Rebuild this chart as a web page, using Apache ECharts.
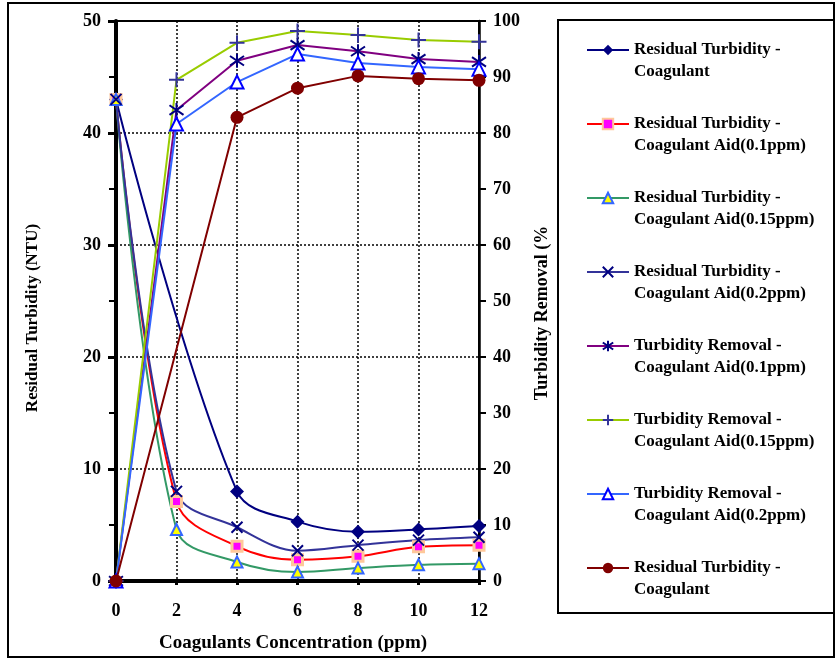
<!DOCTYPE html>
<html>
<head>
<meta charset="utf-8">
<script src="https://cdn.jsdelivr.net/npm/echarts@6/dist/echarts.min.js"></script>
<style>
html,body{margin:0;padding:0;background:#fff;}
#chart{width:836px;height:660px;}
</style>
</head>
<body>
<div id="chart"></div>
<script>
// ---- data ----
const xCoag = [0, 4, 6, 8, 10, 12];
const xAid = [0, 2, 4, 6, 8, 10, 12];
const resCoag = [43, 8.0, 5.3, 4.4, 4.6, 4.9];
const resAid01 = [43, 7.1, 3.1, 1.9, 2.2, 3.05, 3.2];
const resAid015 = [43, 4.6, 1.7, 0.8, 1.15, 1.45, 1.55];
const resAid02 = [43, 8.0, 4.8, 2.7, 3.2, 3.65, 3.9];
const remAid01 = [0, 84.1, 92.9, 95.7, 94.6, 93.2, 92.7];
const remAid015 = [0, 89.5, 96.1, 98.2, 97.5, 96.6, 96.3];
const remAid02 = [0, 81.6, 89.1, 94.1, 92.5, 91.8, 91.4];
const remCoag = [0, 82.8, 88.0, 90.2, 89.7, 89.4];

const seriesNames = [
  'Residual Turbidity -\nCoagulant',
  'Residual Turbidity -\nCoagulant Aid(0.1ppm)',
  'Residual Turbidity -\nCoagulant Aid(0.15ppm)',
  'Residual Turbidity -\nCoagulant Aid(0.2ppm)',
  'Turbidity Removal -\nCoagulant Aid(0.1ppm)',
  'Turbidity Removal -\nCoagulant Aid(0.15ppm)',
  'Turbidity Removal -\nCoagulant Aid(0.2ppm)',
  'Residual Turbidity -\nCoagulant ' // trailing space keeps the legend entry distinct
];
const xTicks = {min: 0, max: 12, interval: 2};
const yLeftTicks = {min: 0, max: 50, interval: 10};
const yRightTicks = {min: 0, max: 100, interval: 10};
const xTitle = 'Coagulants Concentration (ppm)';
const yLeftTitle = 'Residual Turbidity (NTU)';
const yRightTitle = 'Turbidity Removal (%';

// ---- build ----
const pair = (xs, ys) => xs.map((x, i) => [x, ys[i]]);
const FONT = 'Liberation Serif';
const SYM_X = 'path://M0,0L10,10M10,0L0,10';
const SYM_AST = 'path://M5,0L5,10M0.6,1.6L9.4,8.4M9.4,1.6L0.6,8.4';
const SYM_PLUS = 'path://M5,0L5,10M0,5L10,5';

function mk(name, xs, ys, axis, smooth, lineColor, symbol, size, itemStyle) {
  return {
    name: name, type: 'line', yAxisIndex: axis,
    data: pair(xs, ys), smooth: smooth,
    symbol: symbol, symbolSize: size, showAllSymbol: true,
    lineStyle: {color: lineColor, width: 2},
    itemStyle: itemStyle,
    emphasis: {disabled: true}
  };
}

const series = [
  mk(seriesNames[0], xCoag, resCoag, 0, 0.35, '#000080', 'diamond', 14, {color: '#000080'}),
  mk(seriesNames[1], xAid, resAid01, 0, 0.35, '#ff0000', 'rect', 10, {color: '#ff00ff', borderColor: '#ffc89a', borderWidth: 3}),
  mk(seriesNames[2], xAid, resAid015, 0, 0.35, '#339966', 'triangle', 11, {color: '#ffff00', borderColor: '#3366ff', borderWidth: 2}),
  mk(seriesNames[3], xAid, resAid02, 0, 0.35, '#333399', SYM_X, 11, {color: '#000080', borderColor: '#000080', borderWidth: 2}),
  mk(seriesNames[4], xAid, remAid01, 1, false, '#800080', SYM_AST, 14, {color: '#000080', borderColor: '#000080', borderWidth: 2}),
  mk(seriesNames[5], xAid, remAid015, 1, false, '#99cc00', SYM_PLUS, 15, {color: '#333399', borderColor: '#333399', borderWidth: 2}),
  mk(seriesNames[6], xAid, remAid02, 1, false, '#3366ff', 'triangle', 13, {color: '#ffffff', borderColor: '#0000ff', borderWidth: 2}),
  mk(seriesNames[7], xCoag, remCoag, 1, false, '#800000', 'circle', 13, {color: '#800000'})
];

const labelStyle = {fontFamily: FONT, fontWeight: 'bold', fontSize: 18, color: '#000'};
const dotted = {color: '#000', width: 1.5, type: [2, 2]};

const option = {
  animation: false,
  backgroundColor: '#fff',
  graphic: [
    {type: 'rect', shape: {x: 8, y: 3, width: 826, height: 654}, style: {fill: 'none', stroke: '#000', lineWidth: 2}, z: -10, silent: true},
    {type: 'rect', shape: {x: 558, y: 20, width: 276, height: 593}, style: {fill: '#fff', stroke: '#000', lineWidth: 2}, z: -5, silent: true}
  ],
  grid: {left: 116, right: 357, top: 21, bottom: 79, show: true, borderColor: '#000', borderWidth: 2, backgroundColor: 'transparent'},
  legend: {
    orient: 'vertical', left: 586, top: 17, padding: 0,
    itemGap: 8, itemWidth: 42, itemHeight: 13,
    data: seriesNames,
    formatter: function (n) { return ' \n' + n; },
    textStyle: {fontFamily: FONT, fontWeight: 'bold', fontSize: 17, lineHeight: 22, color: '#000'},
    selectedMode: false
  },
  xAxis: {
    type: 'value', min: xTicks.min, max: xTicks.max, interval: xTicks.interval,
    name: xTitle, nameLocation: 'middle', nameGap: 53,
    nameTextStyle: {fontFamily: FONT, fontWeight: 'bold', fontSize: 19, color: '#000', padding: [0, 9, 0, 0]},
    axisLine: {onZero: false, lineStyle: {color: '#000', width: 4}},
    axisTick: {show: true, inside: false, length: 4, lineStyle: {color: '#000', width: 3}},
    axisLabel: Object.assign({margin: 21}, labelStyle),
    splitLine: {show: true, lineStyle: dotted}
  },
  yAxis: [
    {
      type: 'value', position: 'left', min: yLeftTicks.min, max: yLeftTicks.max, interval: yLeftTicks.interval,
      name: yLeftTitle, nameLocation: 'middle', nameGap: 75, nameRotate: 90,
      nameTextStyle: {fontFamily: FONT, fontWeight: 'bold', fontSize: 17, color: '#000', padding: [0, 34, 0, 0]},
      axisLine: {show: true, onZero: false, lineStyle: {color: '#000', width: 4}},
      axisTick: {show: true, inside: false, length: 8, lineStyle: {color: '#000', width: 3}},
      axisLabel: Object.assign({margin: 15}, labelStyle),
      splitLine: {show: true, lineStyle: dotted}
    },
    {
      type: 'value', position: 'right', min: yRightTicks.min, max: yRightTicks.max, interval: yRightTicks.interval,
      name: yRightTitle, nameLocation: 'middle', nameGap: 54, nameRotate: 90,
      nameTextStyle: {fontFamily: FONT, fontWeight: 'bold', fontSize: 18, color: '#000', padding: [0, 24, 0, 0]},
      axisLine: {show: true, onZero: false, lineStyle: {color: '#000', width: 2.5}},
      axisTick: {show: true, inside: false, length: 7, lineStyle: {color: '#000', width: 2}},
      axisLabel: Object.assign({margin: 14}, labelStyle),
      splitLine: {show: false}
    },
    {
      type: 'value', position: 'right', min: yRightTicks.min, max: yRightTicks.max, interval: yRightTicks.interval,
      axisLine: {show: false},
      axisTick: {show: true, inside: true, length: 7, lineStyle: {color: '#000', width: 2}},
      axisLabel: {show: false},
      splitLine: {show: false}
    }
  ],
  series: series
};

const chart = echarts.init(document.getElementById('chart'), null, {renderer: 'canvas'});
chart.setOption(option);
</script>
</body>
</html>
